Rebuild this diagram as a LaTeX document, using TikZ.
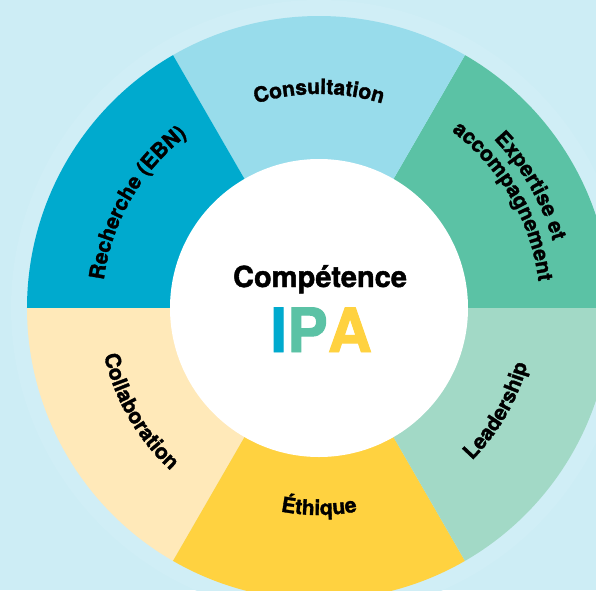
\documentclass[tikz,border=0pt]{standalone}
\usepackage{fontspec}
\setmainfont{TeX Gyre Heros}[BoldFeatures={FakeBold=1.6}]
\usetikzlibrary{positioning, decorations.text}
\definecolor{bgblue}{RGB}{205,237,245}
\definecolor{haloblue}{RGB}{208,238,246}
\definecolor{consultblue}{RGB}{152,220,235}
\definecolor{expertgreen}{RGB}{91,194,165}
\definecolor{leadgreen}{RGB}{162,217,198}
\definecolor{ethicyellow}{RGB}{255,210,64}
\definecolor{collabcream}{RGB}{255,233,185}
\definecolor{searchblue}{RGB}{0,170,206}
\newcommand{\ringfont}{\bfseries\fontsize{21}{21}\selectfont}

\begin{document}
\begin{tikzpicture}[x=1pt, y=1pt,
  seglabel/.style={decorate, decoration={text along path, text align=center, text={#1}}},
  hub/.style={circle, fill=white, minimum size=298pt, inner sep=0pt}
]
  \useasboundingbox (-319,-282) rectangle (277,308);
  \fill[bgblue] (-319,-282) rectangle (277,308);
  \clip (-319,-282) rectangle (277,308);
  \fill[haloblue] (0,0) circle (308);

  % ring segments
  \foreach \a/\col in {0/expertgreen, 60/consultblue, 120/searchblue,
                       180/collabcream, 240/ethicyellow, 300/leadgreen}
    \fill[\col] (0,0) -- (\a:292) arc[start angle=\a, delta angle=60, radius=292] -- cycle;

  \node[hub] (core) at (0,0) {};
  \node[anchor=base, font=\bfseries\fontsize{29}{29}\selectfont] (title) at (1,21) {Compétence};
  \node[anchor=base, font=\bfseries\fontsize{61}{61}\selectfont, inner sep=0pt] (ipa) at (2,-44)
    {\textcolor{searchblue}{I}\textcolor{expertgreen}{P}\textcolor{ethicyellow}{A}};

  % labels along the ring
  \path[seglabel={|\ringfont|Consultation}] (150:214) arc[start angle=150, end angle=30, radius=214];
  \path[seglabel={|\ringfont|Expertise et}] (90:243) arc[start angle=90, end angle=-30, radius=243];
  \path[seglabel={|\ringfont|accompagnement}] (90:221) arc[start angle=90, end angle=-30, radius=221];
  \path[seglabel={|\ringfont|Leadership}] (-90:216) arc[start angle=-90, end angle=30, radius=216];
  \path[seglabel={|\ringfont|Éthique}] (-150:207) arc[start angle=-150, end angle=-30, radius=207];
  \path[seglabel={|\ringfont|Collaboration}] (150:220) arc[start angle=150, end angle=270, radius=220];
  \path[seglabel={|\ringfont|Recherche (EBN)}] (210:217) arc[start angle=210, end angle=90, radius=217];
\end{tikzpicture}
\end{document}
